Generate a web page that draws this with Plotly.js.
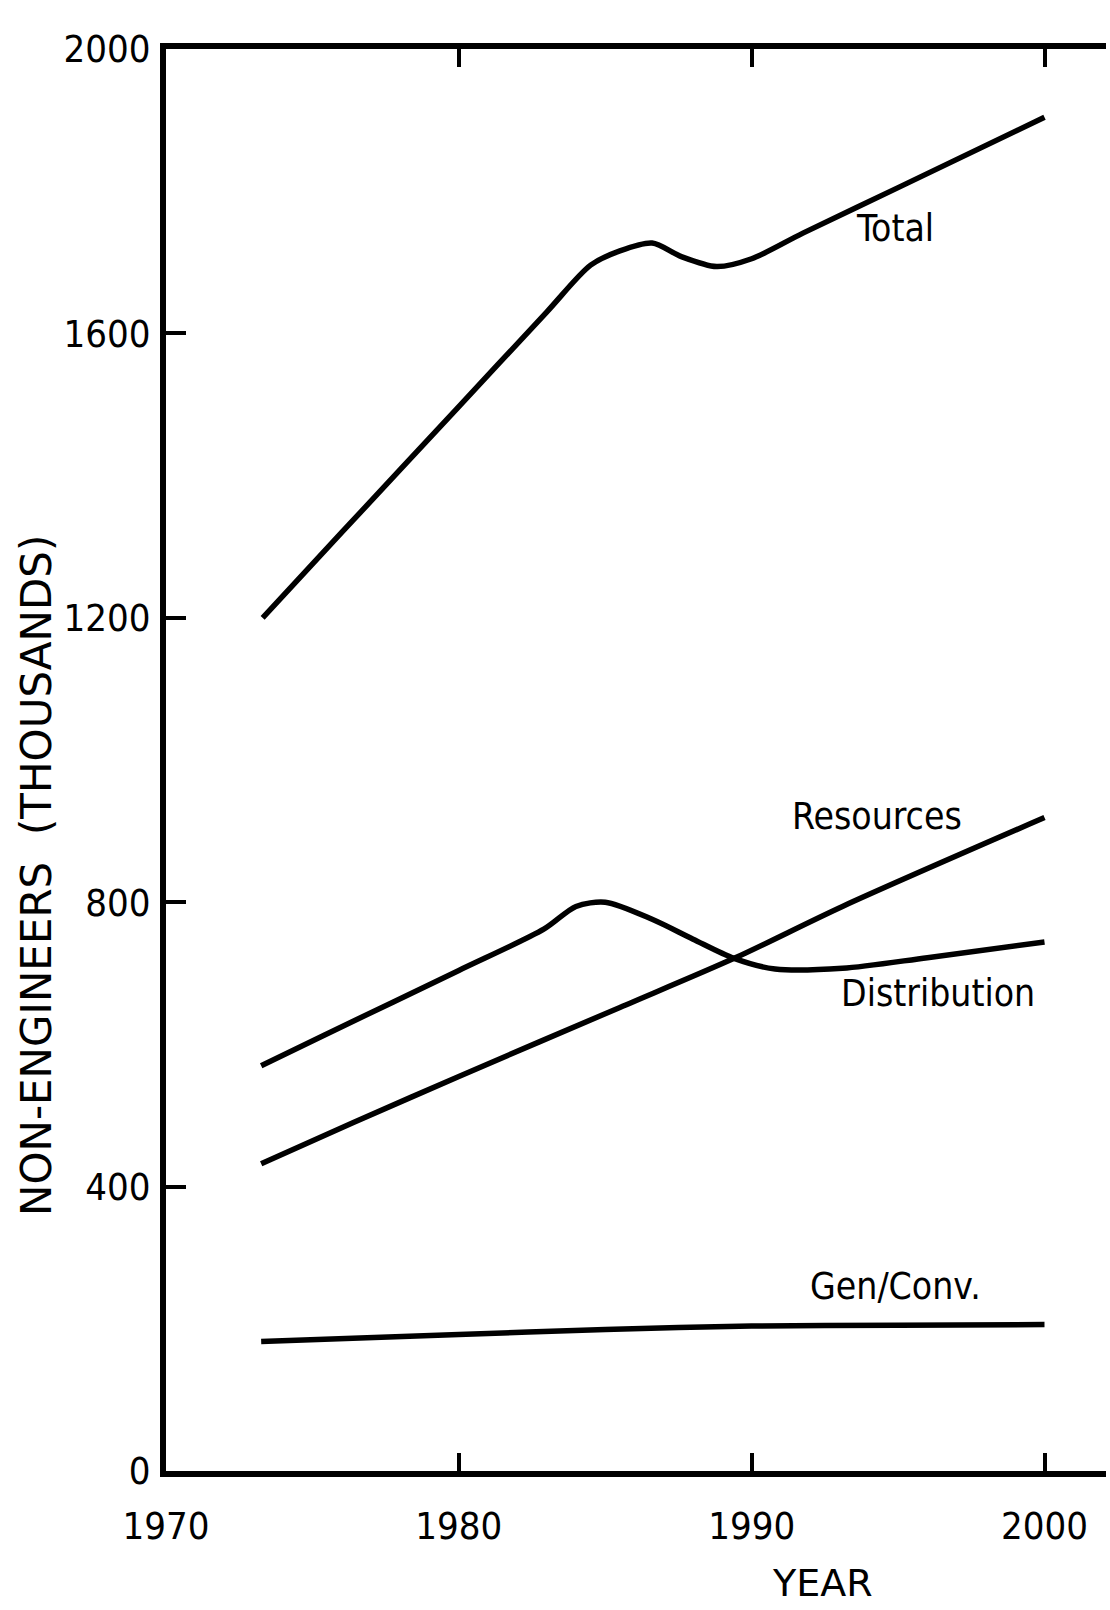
<!DOCTYPE html>
<html>
<head>
<meta charset="utf-8">
<script src="https://cdn.plot.ly/plotly-3.0.1.min.js"></script>
<style>
  html, body { margin: 0; padding: 0; background: #fff; }
  #chart { width: 1110px; height: 1610px; }
</style>
</head>
<body>
<div id="chart"></div>
<script>
// ---- data ----
const totalYears = [1973.3, 1976, 1980, 1983, 1984.5, 1985.5, 1986.6, 1987.6, 1988.8, 1990, 1991.75, 1995, 2000];
const totalValues = [1200, 1320, 1497, 1630, 1696, 1716, 1727, 1708, 1694, 1705, 1741, 1805, 1904];

const distYears = [1973.25, 1975.4, 1980, 1982.9, 1984, 1985, 1986.6, 1988, 1989.4, 1990.8, 1993.1, 1996, 2000];
const distValues = [570, 613, 704, 762, 794, 800, 776, 748, 721, 706, 707, 722, 744];

const resYears = [1973.25, 1976.4, 1980, 1985.5, 1989.4, 1993.1, 2000];
const resValues = [432, 490, 555, 652, 721, 794, 919];

const genYears = [1973.25, 1980, 1985, 1990, 1995, 2000];
const genValues = [182, 192, 199, 204, 205, 206];

const xTickVals = [1970, 1980, 1990, 2000];
const xTickText = ['1970', '1980', '1990', '2000'];
const yTickVals = [0, 400, 800, 1200, 1600, 2000];
const yTickText = ['0', '400', '800', '1200', '1600', '2000'];

const seriesNames = ['Total', 'Resources', 'Distribution', 'Gen/Conv.'];

// ---- styling ----
const condFont = 'DejaVu Sans Condensed, DejaVu Sans, sans-serif';
const lineStyle = {color: '#000', width: 5.5, shape: 'spline', smoothing: 0.8};

const traces = [
  {x: totalYears, y: totalValues, name: seriesNames[0]},
  {x: distYears, y: distValues, name: seriesNames[2]},
  {x: resYears, y: resValues, name: seriesNames[1]},
  {x: genYears, y: genValues, name: seriesNames[3]}
].map(t => Object.assign(t, {type: 'scatter', mode: 'lines', line: lineStyle, hoverinfo: 'skip'}));

const labelFont = {family: condFont, size: 37, color: '#000'};

const M = {l: 166, r: 4, t: 49, b: 139};
const plotH = 1610 - M.t - M.b;
const plotW = 1110 - M.l - M.r;

const layout = {
  width: 1110,
  height: 1610,
  paper_bgcolor: '#fff',
  plot_bgcolor: '#fff',
  showlegend: false,
  margin: M,
  xaxis: {
    range: [1970, 2002.1],
    tickvals: xTickVals,
    ticktext: xTickText,
    showgrid: false,
    zeroline: false,
    showline: true,
    linecolor: '#000',
    linewidth: 6,
    mirror: 'ticks',
    ticks: 'inside',
    ticklen: 18,
    tickwidth: 4,
    tickcolor: '#000',
    ticklabelstandoff: 16,
    tickfont: {family: condFont, size: 38, color: '#000'}
  },
  yaxis: {
    range: [0, 2000],
    tickvals: yTickVals,
    ticktext: yTickText,
    showgrid: false,
    zeroline: false,
    showline: true,
    linecolor: '#000',
    linewidth: 6,
    mirror: false,
    ticks: 'inside',
    ticklen: 20,
    tickwidth: 4,
    tickcolor: '#000',
    ticklabelstandoff: 2,
    tickfont: {family: condFont, size: 38, color: '#000'}
  },
  yaxis2: {
    overlaying: 'y',
    side: 'right',
    anchor: 'x',
    range: [0, 2000],
    tickvals: [400, 800, 1200, 1600],
    showticklabels: false,
    showgrid: false,
    zeroline: false,
    showline: true,
    linecolor: '#000',
    linewidth: 2,
    ticks: 'inside',
    ticklen: 15,
    tickwidth: 4,
    tickcolor: '#000'
  },
  annotations: [
    {text: seriesNames[0], x: 1994.9, y: 1747, xref: 'x', yref: 'y', showarrow: false, font: labelFont},
    {text: seriesNames[1], x: 1994.27, y: 920, xref: 'x', yref: 'y', showarrow: false, font: labelFont},
    {text: seriesNames[2], x: 1996.36, y: 671, xref: 'x', yref: 'y', showarrow: false, font: labelFont},
    {text: seriesNames[3], x: 1994.9, y: 260, xref: 'x', yref: 'y', showarrow: false, font: labelFont},
    {text: 'YEAR', x: (822 - M.l) / plotW, y: ((1610 - M.b) - 1583) / plotH, xref: 'paper', yref: 'paper', showarrow: false,
     xanchor: 'center', yanchor: 'middle', font: {family: 'DejaVu Sans, sans-serif', size: 38, color: '#000'}},
    {text: 'NON-ENGINEERS  (THOUSANDS)', x: (36 - M.l) / plotW, y: ((1610 - M.b) - 876) / plotH, xref: 'paper', yref: 'paper', showarrow: false,
     textangle: -90, xanchor: 'center', yanchor: 'middle', font: {family: 'DejaVu Sans, sans-serif', size: 42, color: '#000'}}
  ]
};

Plotly.newPlot('chart', traces, layout, {staticPlot: true, displayModeBar: false});
</script>
</body>
</html>
